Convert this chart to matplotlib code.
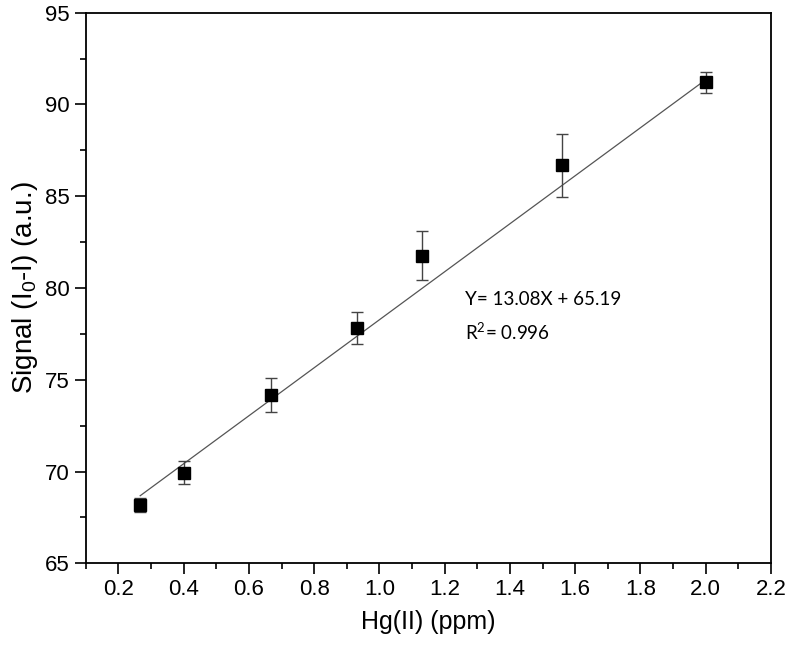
import matplotlib
matplotlib.use("Agg")
import matplotlib.pyplot as plt
import numpy as np
from matplotlib.ticker import MultipleLocator

# Data
conc = [0.267, 0.40, 0.667, 0.93, 1.13, 1.56, 2.00]
signal = [68.17, 69.93, 74.15, 77.80, 81.76, 86.69, 91.21]
err = [0.40, 0.62, 0.93, 0.87, 1.32, 1.72, 0.57]
slope = 13.08
intercept = 65.19
r2 = 0.996
xticks = [0.2, 0.4, 0.6, 0.8, 1.0, 1.2, 1.4, 1.6, 1.8, 2.0, 2.2]

plt.rcParams['font.family'] = ['Liberation Sans', 'DejaVu Sans']
plt.rcParams['mathtext.default'] = 'regular'

fig = plt.figure(figsize=(7.87, 6.51), dpi=100)
ax = fig.add_axes([0.1089, 0.1347, 0.9797 - 0.1089, 0.9805 - 0.1347])

xf = np.array([conc[0], conc[-1]])
ax.plot(xf, slope * xf + intercept, color='#555555', lw=0.9, zorder=2)
ax.errorbar(conc, signal, yerr=err, fmt='none', ecolor='#444444', elinewidth=1.0,
            capsize=4.5, capthick=1.0, zorder=3)
ax.plot(conc, signal, 's', color='black', markersize=8, zorder=4)

ax.set_xlim(0.1, 2.2)
ax.set_ylim(65, 95)
ax.set_xticks(xticks)
ax.set_xticklabels([f"{v:.1f}" for v in xticks])
ax.xaxis.set_minor_locator(MultipleLocator(0.1))
ax.yaxis.set_major_locator(MultipleLocator(5))
ax.yaxis.set_minor_locator(MultipleLocator(2.5))

ax.tick_params(which='major', direction='out', length=7.8, width=1.2, labelsize=16, pad=4)
ax.tick_params(axis='x', which='major', pad=3.5)
ax.tick_params(which='minor', direction='out', length=4.2, width=1.2)
for s in ax.spines.values():
    s.set_linewidth(1.3)

ax.set_xlabel('Hg(II) (ppm)', fontsize=18, labelpad=7)
ax.set_ylabel('Signal (I$_0$-I) (a.u.)', fontsize=20, labelpad=3)

ax.text(1.262, 79.07, f'Y= {slope:.2f}X + {intercept:.2f}', fontsize=13.5,
        family=['Lato', 'DejaVu Sans'], va='baseline')
ax.text(1.262, 77.16, f'R$^2$= {r2:.3f}', fontsize=13.5,
        family=['Lato', 'DejaVu Sans'], va='baseline')

fig.savefig('out.png', dpi=100)
